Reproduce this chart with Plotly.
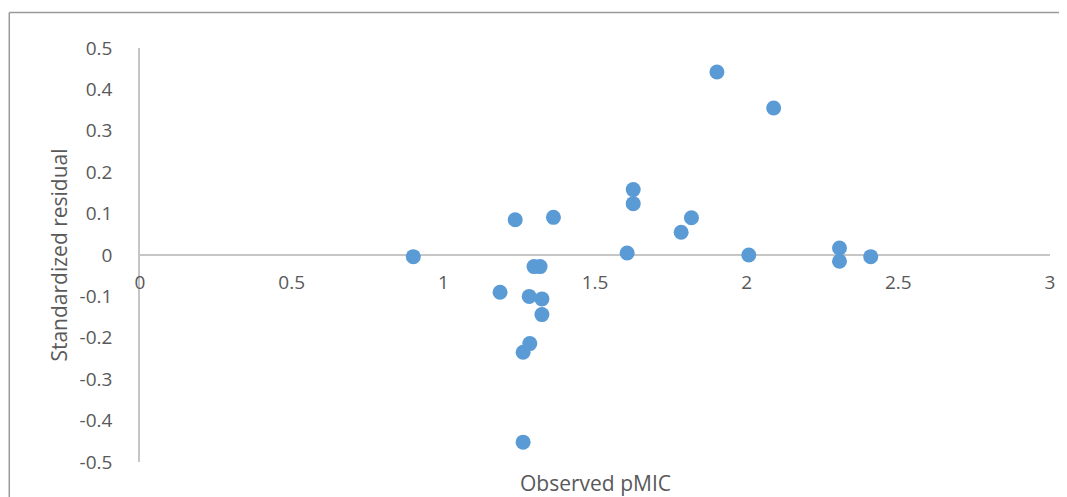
import plotly.graph_objects as go

# Data
observed_pmic = [0.901, 1.187, 1.237, 1.363, 1.299, 1.319, 1.283, 1.325, 1.325, 1.285, 1.263,
                 1.263, 1.606, 1.626, 1.626, 1.784, 1.818, 1.902, 2.089, 2.007, 2.306, 2.306, 2.409]
std_residual = [-0.004, -0.090, 0.085, 0.091, -0.028, -0.028, -0.100, -0.106, -0.144, -0.214, -0.235,
                -0.452, 0.005, 0.158, 0.124, 0.055, 0.090, 0.442, 0.355, 0.0, 0.017, -0.015, -0.004]

x_tickvals = [0, 0.5, 1, 1.5, 2, 2.5, 3]
x_ticktext = ["0", "0.5", "1", "1.5", "2", "2.5", "3"]
y_tickvals = [0.5, 0.4, 0.3, 0.2, 0.1, 0, -0.1, -0.2, -0.3, -0.4, -0.5]
y_ticktext = ["0.5", "0.4", "0.3", "0.2", "0.1", "0", "-0.1", "-0.2", "-0.3", "-0.4", "-0.5"]

# The page body has an 8px margin, so the figure is drawn 8px in from the corner.
OFF = 8
W, H = 1067 - OFF, 497 - OFF
ML, MR, MT, MB = 140 - OFF, 15, 48 - OFF, 35
PW, PH = W - ML - MR, H - MT - MB

def px_x(p):
    # p: pixel x in the reference window
    return (p - OFF - ML) / PW

def px_y(p):
    # p: pixel y in the reference window
    return (H - MB - (p - OFF)) / PH

FONT = "Open Sans"
TXT = "#595959"
AX = "#c6c6c6"

fig = go.Figure()
fig.add_trace(go.Scatter(
    x=observed_pmic, y=std_residual, mode="markers",
    marker=dict(size=15, color="#5B9BD5", line=dict(width=0)),
    showlegend=False, hoverinfo="x+y",
))

fig.update_layout(
    width=W, height=H,
    margin=dict(l=ML, r=MR, t=MT, b=MB),
    paper_bgcolor="white", plot_bgcolor="white",
    font=dict(family=FONT, color=TXT, size=19),
    xaxis=dict(
        range=[0, 3], tickvals=x_tickvals, ticktext=x_ticktext,
        showgrid=False, zeroline=False, showline=False,
        anchor="free", position=0.5, ticks="", ticklabelstandoff=14,
        tickfont=dict(size=19, color=TXT, family=FONT),
    ),
    yaxis=dict(
        range=[-0.5, 0.5], tickvals=y_tickvals, ticktext=y_ticktext,
        showgrid=False, zeroline=True, zerolinecolor=AX, zerolinewidth=1.5,
        showline=True, linecolor=AX, linewidth=1.5, ticks="",
        ticklabelstandoff=22,
        tickfont=dict(size=19, color=TXT, family=FONT),
        title=dict(text="Standardized residual", standoff=6,
                   font=dict(size=21, color=TXT, family=FONT)),
    ),
    annotations=[dict(
        text="Observed pMIC", xref="paper", yref="paper",
        x=0.5, y=px_y(483), xanchor="center", yanchor="middle",
        showarrow=False, font=dict(size=21, color=TXT, family=FONT),
    )],
    shapes=[
        dict(type="line", xref="paper", yref="paper",
             x0=px_x(9), x1=px_x(1070), y0=px_y(12.5), y1=px_y(12.5),
             line=dict(color="#9a9a9a", width=1.5)),
        dict(type="line", xref="paper", yref="paper",
             x0=px_x(9), x1=px_x(9), y0=px_y(12.5), y1=px_y(500),
             line=dict(color="#9a9a9a", width=1.5)),
    ],
)

fig.write_html("out.html")
